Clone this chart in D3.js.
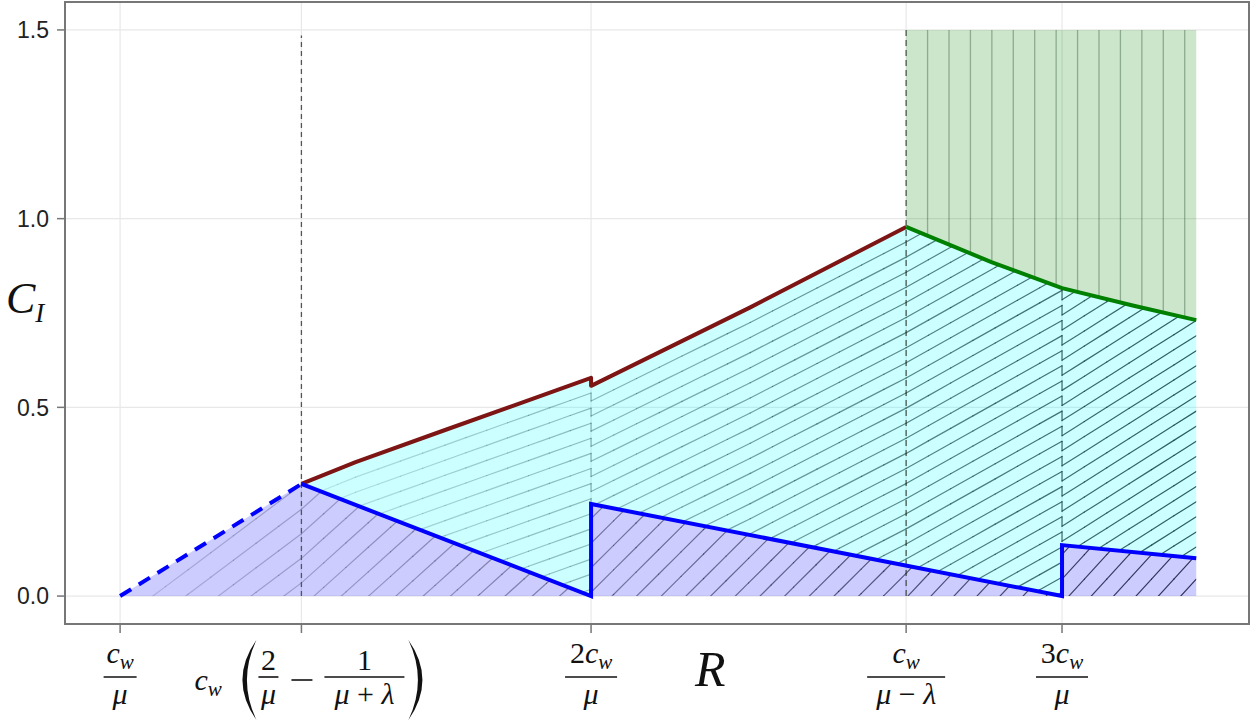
<!DOCTYPE html>
<html>
<head>
<meta charset="utf-8">
<script src="https://cdn.jsdelivr.net/npm/d3@7"></script>
<style>
  body { margin: 0; background: #fff; }
  .serif { font-family: "Liberation Serif", "DejaVu Serif", serif; fill: #111; }
</style>
</head>
<body>
<div class="board"></div>
<script>
var width = 1257, height = 723;

// R in units of c_w/mu ; lambda/mu ~ 0.625
var xTickVals = [1, 1.385, 2, 2.669, 3];
var yTickVals = [0, 0.5, 1, 1.5];
var yTickLabels = ['0.0', '0.5', '1.0', '1.5'];

var lowerDashed = [[1, 0], [1.385, 0.297]];
var lowerSolid = [[1.385, 0.297], [2, 0], [2, 0.244], [3, 0], [3, 0.135], [3.285, 0.1]];
var upperRed = [[1.385, 0.297], [1.5, 0.355], [1.69, 0.44], [2, 0.578], [2, 0.557], [2.338, 0.765], [2.669, 0.978]];
var upperGreen = [[2.669, 0.978], [2.85, 0.885], [3, 0.816], [3.15, 0.77], [3.285, 0.731]];
var capY = 1.5;
var splitR = 1.385, thresholdR = 2.669, endR = 3.285;

// guide curves for the hatching families
var cyanGuide = [[1.385, 0.297], [1.5, 0.355], [1.69, 0.44], [2, 0.578], [2, 0.557], [2.338, 0.765], [2.669, 0.978], [3, 1.21], [3, 1.185], [3.285, 1.41]];
var purpleGuide = [[1, 0], [1.385, 0.36], [2, 1.05], [2.669, 1.88], [3, 2.32], [3.285, 2.71]];

var x = d3.scaleLinear().domain([0.883, 3.397]).range([65, 1249]);
var y = d3.scaleLinear().domain([-0.074, 1.574]).range([624, 2]);

var svg = d3.select('.board').append('svg')
  .attr('width', width)
  .attr('height', height);

var defs = svg.append('defs');

var line = d3.line()
  .x(function(d) { return x(d[0]); })
  .y(function(d) { return y(d[1]); });

// grid
svg.append('g').selectAll('line').data(xTickVals).enter().append('line')
  .attr('x1', function(d) { return x(d); }).attr('x2', function(d) { return x(d); })
  .attr('y1', 2).attr('y2', 624)
  .attr('stroke', '#e8e8e8').attr('stroke-width', 1.2);
svg.append('g').selectAll('line').data(yTickVals).enter().append('line')
  .attr('y1', function(d) { return y(d); }).attr('y2', function(d) { return y(d); })
  .attr('x1', 65).attr('x2', 1249)
  .attr('stroke', '#e8e8e8').attr('stroke-width', 1.2);

// regions
var purplePoly = [[1, 0]].concat(lowerDashed.slice(1), lowerSolid.slice(1), [[endR, 0]]);
var cyanPoly = upperRed.concat(upperGreen.slice(1), lowerSolid.slice().reverse());
var greenPoly = upperGreen.concat([[endR, capY], [thresholdR, capY]]);

function region(id, poly, fill) {
  defs.append('clipPath').attr('id', id).append('path').attr('d', line(poly) + 'Z');
  svg.append('path').attr('d', line(poly) + 'Z').attr('fill', fill);
}
region('clipPurple', purplePoly, 'rgba(0,0,255,0.2)');
region('clipCyan', cyanPoly, 'rgba(0,255,255,0.2)');
region('clipGreen', greenPoly, 'rgba(0,128,0,0.2)');

// hatch families: each line is the guide shifted down by k*step;
// ink gets darker from left to right, so each line is cut into short pieces
function hatch(guide, step, n, clip, color, r0, r1, o0, o1) {
  var op = d3.scaleLinear().domain([r0, r1]).range([o0, o1]).clamp(true);
  var pieces = [];
  d3.range(-2, n).forEach(function(k) {
    for (var i = 0; i < guide.length - 1; i++) {
      var a = guide[i], b = guide[i + 1];
      var m = Math.max(1, Math.ceil((b[0] - a[0]) / 0.05));
      for (var j = 0; j < m; j++) {
        var u0 = j / m, u1 = (j + 1) / m;
        pieces.push([
          [a[0] + (b[0] - a[0]) * u0, a[1] + (b[1] - a[1]) * u0 - k * step],
          [a[0] + (b[0] - a[0]) * u1, a[1] + (b[1] - a[1]) * u1 - k * step]
        ]);
      }
    }
  });
  svg.append('g').attr('clip-path', 'url(#' + clip + ')')
    .selectAll('path').data(pieces).enter().append('path')
    .attr('d', function(d) { return line(d); })
    .attr('fill', 'none').attr('stroke', color).attr('stroke-width', 1.2)
    .attr('stroke-linecap', 'round')
    .attr('stroke-opacity', function(d) { return op((d[0][0] + d[1][0]) / 2); });
}
hatch(cyanGuide, 0.04, 40, 'clipCyan', '#0d3f3f', splitR, endR, 0.12, 0.85);
hatch(purpleGuide, 0.065, 45, 'clipPurple', '#15153a', 1, endR, 0.15, 0.85);

// vertical hatch in the green region
svg.append('g').attr('clip-path', 'url(#clipGreen)')
  .selectAll('line').data(d3.range(thresholdR + 0.0455, endR, 0.0455)).enter().append('line')
  .attr('x1', function(d) { return x(d); }).attr('x2', function(d) { return x(d); })
  .attr('y1', y(0)).attr('y2', y(capY))
  .attr('stroke', 'rgba(30,60,30,0.35)').attr('stroke-width', 1.3);

// dashed verticals
svg.append('line')
  .attr('x1', x(splitR)).attr('x2', x(splitR)).attr('y1', y(0)).attr('y2', y(1.485))
  .attr('stroke', '#555').attr('stroke-width', 1.3).attr('stroke-dasharray', '5,4');
svg.append('line')
  .attr('x1', x(thresholdR)).attr('x2', x(thresholdR)).attr('y1', y(0)).attr('y2', y(capY))
  .attr('stroke', '#2a3a2a').attr('stroke-width', 1.4).attr('stroke-dasharray', '6,4')
  .attr('opacity', 0.75);

// curves
svg.append('path').attr('d', line(upperRed)).attr('fill', 'none')
  .attr('stroke', '#7d1515').attr('stroke-width', 4).attr('stroke-linejoin', 'round');
svg.append('path').attr('d', line(upperGreen)).attr('fill', 'none')
  .attr('stroke', '#008000').attr('stroke-width', 4).attr('stroke-linejoin', 'round');
svg.append('path').attr('d', line(lowerDashed)).attr('fill', 'none')
  .attr('stroke', '#0000ff').attr('stroke-width', 4).attr('stroke-dasharray', '13,9');
svg.append('path').attr('d', line(lowerSolid)).attr('fill', 'none')
  .attr('stroke', '#0000ff').attr('stroke-width', 4).attr('stroke-linejoin', 'miter');

// frame + ticks
svg.append('rect').attr('x', 65).attr('y', 2).attr('width', 1184).attr('height', 622)
  .attr('fill', 'none').attr('stroke', '#777').attr('stroke-width', 2);
svg.append('g').selectAll('line').data(yTickVals).enter().append('line')
  .attr('x1', 57).attr('x2', 65)
  .attr('y1', function(d) { return y(d); }).attr('y2', function(d) { return y(d); })
  .attr('stroke', '#777').attr('stroke-width', 1.5);
svg.append('g').selectAll('line').data(xTickVals).enter().append('line')
  .attr('y1', 624).attr('y2', 633)
  .attr('x1', function(d) { return x(d); }).attr('x2', function(d) { return x(d); })
  .attr('stroke', '#777').attr('stroke-width', 1.5);

svg.append('g').selectAll('text').data(yTickVals).enter().append('text')
  .attr('x', 49).attr('y', function(d) { return y(d); }).attr('dy', '0.36em')
  .attr('text-anchor', 'end')
  .style('font-family', '"Liberation Sans", Arial, sans-serif').style('font-size', '23px')
  .attr('fill', '#222')
  .text(function(d, i) { return yTickLabels[i]; });

// math tick labels
function mathText(g, xx, yy, parts, anchor, size) {
  var t = g.append('text').attr('class', 'serif').attr('x', xx).attr('y', yy)
    .attr('text-anchor', anchor || 'middle').style('font-size', (size || 30) + 'px');
  parts.forEach(function(p) {
    var s = t.append('tspan').text(p.t);
    if (p.it) s.style('font-style', 'italic');
    if (p.sub) s.attr('dy', 6).style('font-size', '21px');
  });
  return t;
}
var cw = [{t: 'c', it: true}, {t: 'w', it: true, sub: true}];
var mu = [{t: 'μ', it: true}];
function frac(g, cx, num, den, w, numY) {
  mathText(g, cx, numY || 670, num);
  g.append('line').attr('x1', cx - w / 2).attr('x2', cx + w / 2)
    .attr('y1', 677).attr('y2', 677).attr('stroke', '#111').attr('stroke-width', 1.6);
  mathText(g, cx, 704, den);
}
function paren(g, xe, dir) {
  var top = 640, bot = 720, mid = (top + bot) / 2;
  g.append('path').attr('class', 'serif')
    .attr('d', 'M' + xe + ',' + top + ' Q' + (xe - dir * 28) + ',' + mid + ' ' + xe + ',' + bot +
      ' Q' + (xe - dir * 19) + ',' + mid + ' ' + xe + ',' + top + 'Z');
}

var lab = svg.append('g');
var t0 = x(xTickVals[0]), t1 = x(xTickVals[1]), t2 = x(xTickVals[2]), t3 = x(xTickVals[3]), t4 = x(xTickVals[4]);
frac(lab, t0, cw, mu, 33, 663);
mathText(lab, t1 - 107, 690, cw, 'start');
paren(lab, t1 - 45, 1);
frac(lab, t1 - 33, [{t: '2'}], mu, 20);
lab.append('line').attr('x1', t1 - 10).attr('x2', t1 + 11).attr('y1', 680).attr('y2', 680)
  .attr('stroke', '#111').attr('stroke-width', 1.6);
frac(lab, t1 + 63, [{t: '1'}], [{t: 'μ', it: true}, {t: ' + '}, {t: 'λ', it: true}], 80);
paren(lab, t1 + 107, -1);
frac(lab, t2, [{t: '2'}].concat(cw), mu, 52, 663);
frac(lab, t3, cw, [{t: 'μ', it: true}, {t: ' − '}, {t: 'λ', it: true}], 78, 663);
frac(lab, t4, [{t: '3'}].concat(cw), mu, 52, 663);

// axis titles
svg.append('text').attr('class', 'serif').attr('x', 695).attr('y', 686)
  .style('font-size', '50px').style('font-style', 'italic').text('R');
mathText(svg, 6, 313, [{t: 'C', it: true}, {t: 'I', it: true, sub: true}], 'start', 44)
  .select('tspan:last-child').attr('dy', 9).style('font-size', '27px');
</script>
</body>
</html>
